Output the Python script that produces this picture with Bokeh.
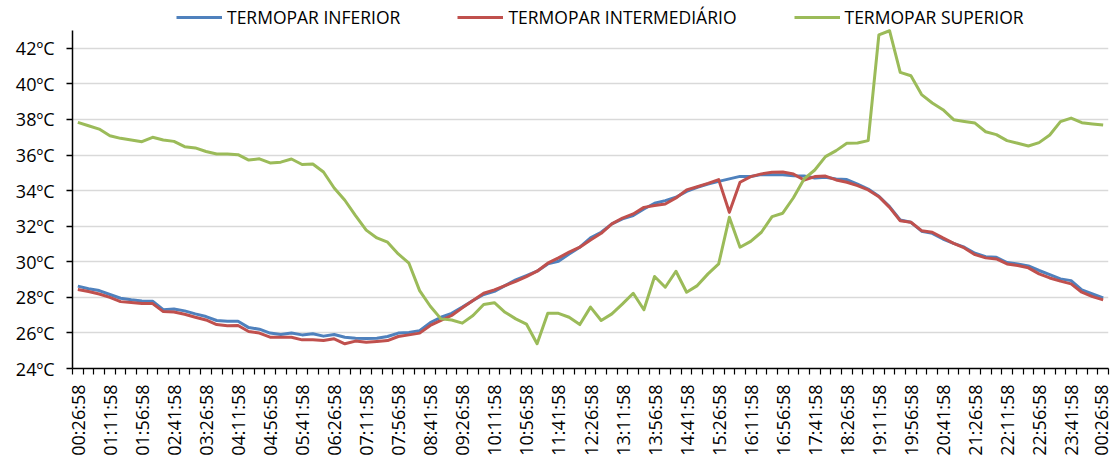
from math import pi
from bokeh.plotting import figure
from bokeh.models import FixedTicker, Legend
from bokeh.embed import file_html
from bokeh.resources import INLINE

# ---- data -------------------------------------------------------------
times = [
    "00:26:58", "00:41:58", "00:56:58",
    "01:11:58", "01:26:58", "01:41:58", "01:56:58",
    "02:11:58", "02:26:58", "02:41:58", "02:56:58",
    "03:11:58", "03:26:58", "03:41:58", "03:56:58",
    "04:11:58", "04:26:58", "04:41:58", "04:56:58",
    "05:11:58", "05:26:58", "05:41:58", "05:56:58",
    "06:11:58", "06:26:58", "06:41:58", "06:56:58",
    "07:11:58", "07:26:58", "07:41:58", "07:56:58",
    "08:11:58", "08:26:58", "08:41:58", "08:56:58",
    "09:11:58", "09:26:58", "09:41:58", "09:56:58",
    "10:11:58", "10:26:58", "10:41:58", "10:56:58",
    "11:11:58", "11:26:58", "11:41:58", "11:56:58",
    "12:11:58", "12:26:58", "12:41:58", "12:56:58",
    "13:11:58", "13:26:58", "13:41:58", "13:56:58",
    "14:11:58", "14:26:58", "14:41:58", "14:56:58",
    "15:11:58", "15:26:58", "15:41:58", "15:56:58",
    "16:11:58", "16:26:58", "16:41:58", "16:56:58",
    "17:11:58", "17:26:58", "17:41:58", "17:56:58",
    "18:11:58", "18:26:58", "18:41:58", "18:56:58",
    "19:11:58", "19:26:58", "19:41:58", "19:56:58",
    "20:11:58", "20:26:58", "20:41:58", "20:56:58",
    "21:11:58", "21:26:58", "21:41:58", "21:56:58",
    "22:11:58", "22:26:58", "22:41:58", "22:56:58",
    "23:11:58", "23:26:58", "23:41:58", "23:56:58",
    "00:11:58", "00:26:58",
]

inferior = [
    28.63, 28.48, 28.38, 28.16, 27.95, 27.86, 27.80, 27.78, 27.31, 27.35, 27.24, 27.07, 26.92, 26.70, 26.66, 26.66, 26.30,
    26.21, 25.99, 25.91, 26.00, 25.89, 25.95, 25.82, 25.91, 25.76, 25.70, 25.69, 25.70, 25.80, 25.99, 26.02, 26.13, 26.58,
    26.88, 27.10, 27.45, 27.82, 28.16, 28.34, 28.66, 28.98, 29.22, 29.47, 29.88, 30.03, 30.44, 30.82, 31.34, 31.66, 32.13,
    32.41, 32.60, 32.97, 33.29, 33.44, 33.63, 33.96, 34.19, 34.37, 34.52, 34.66, 34.80, 34.80, 34.90, 34.90, 34.89, 34.84,
    34.82, 34.71, 34.75, 34.66, 34.62, 34.37, 34.09, 33.68, 33.10, 32.35, 32.22, 31.72, 31.60, 31.28, 31.04, 30.82,
    30.48, 30.29, 30.25, 29.96, 29.88, 29.77, 29.51, 29.28, 29.04, 28.94, 28.42, 28.19, 27.97,
]

intermediario = [
    28.44, 28.33, 28.19, 28.00, 27.76, 27.71, 27.65, 27.65, 27.20, 27.18, 27.05, 26.88, 26.73, 26.47, 26.40, 26.42, 26.08,
    25.99, 25.76, 25.76, 25.76, 25.61, 25.61, 25.57, 25.67, 25.39, 25.54, 25.48, 25.52, 25.57, 25.80, 25.89, 25.99, 26.42,
    26.70, 26.98, 27.41, 27.82, 28.23, 28.42, 28.66, 28.90, 29.17, 29.47, 29.92, 30.22, 30.54, 30.82, 31.23, 31.60, 32.13,
    32.46, 32.69, 33.06, 33.16, 33.25, 33.59, 34.04, 34.22, 34.41, 34.62, 32.78, 34.47, 34.79, 34.94, 35.03, 35.05, 34.93,
    34.60, 34.79, 34.82, 34.60, 34.47, 34.28, 34.04, 33.66, 33.06, 32.31, 32.22, 31.75, 31.66, 31.34, 31.04, 30.78,
    30.40, 30.22, 30.16, 29.88, 29.79, 29.66, 29.32, 29.09, 28.91, 28.76, 28.29, 28.04, 27.86,
]

superior = [
    37.84, 37.65, 37.46, 37.09, 36.94, 36.85, 36.75, 37.00, 36.85, 36.77, 36.47, 36.40, 36.20, 36.06, 36.06, 36.02, 35.72,
    35.79, 35.56, 35.60, 35.78, 35.47, 35.50, 35.05, 34.15, 33.46, 32.60, 31.78, 31.34, 31.10, 30.44, 29.92, 28.38, 27.50,
    26.79, 26.73, 26.55, 26.98, 27.60, 27.70, 27.16, 26.79, 26.50, 25.39, 27.10, 27.10, 26.88, 26.47, 27.45, 26.70, 27.07,
    27.63, 28.23, 27.30, 29.17, 28.57, 29.47, 28.29, 28.66, 29.32, 29.88, 32.50, 30.82, 31.15, 31.66, 32.54, 32.73, 33.60,
    34.66, 35.16, 35.91, 36.25, 36.66, 36.68, 36.81, 42.76, 42.99, 40.65, 40.46, 39.40, 38.93, 38.55, 37.99, 37.89,
    37.80, 37.31, 37.15, 36.81, 36.66, 36.51, 36.70, 37.13, 37.88, 38.08, 37.82, 37.75, 37.69,
]

series_names = ["TERMOPAR INFERIOR", "TERMOPAR INTERMEDIÁRIO", "TERMOPAR SUPERIOR"]
series_colors = ["#4F81BD", "#C0504D", "#9BBB59"]

y_ticks = [24, 26, 28, 30, 32, 34, 36, 38, 40, 42]
y_labels = ["24ºC", "26ºC", "28ºC", "30ºC", "32ºC", "34ºC", "36ºC", "38ºC", "40ºC", "42ºC"]

# ---- figure -----------------------------------------------------------
FONT = "Open Sans"
n = len(times)
xs = list(range(n))

# frame covers the legend strip too; axis line limited to 24..43 by bounds
p = figure(width=1112, height=462, x_range=(-0.5, n - 0.5), y_range=(24, 44.69),
           output_backend="svg", toolbar_location=None,
           min_border_left=72, min_border_right=4, min_border_top=0, min_border_bottom=94)
p.outline_line_color = None
p.background_fill_color = "white"
p.border_fill_color = "white"

renderers = []
for vals, col in zip([inferior, intermediario, superior], series_colors):
    r = p.line(xs, vals, line_color=col, line_width=3, line_join="round")
    renderers.append(r)

# y axis
p.yaxis.ticker = FixedTicker(ticks=y_ticks, minor_ticks=[])
p.yaxis.major_label_overrides = {t: l for t, l in zip(y_ticks, y_labels)}
p.yaxis.bounds = (24, 43)
p.yaxis.major_tick_out = 6
p.yaxis.major_tick_in = 0
p.yaxis.major_tick_line_color = "#000000"
p.yaxis.major_tick_line_width = 1.5
p.yaxis.axis_line_color = "#000000"
p.yaxis.axis_line_width = 1.5
p.yaxis.major_label_text_font = FONT
p.yaxis.major_label_text_font_size = "18px"
p.yaxis.major_label_text_color = "#000000"
p.yaxis.major_label_standoff = 12

# x axis
p.xaxis.ticker = FixedTicker(ticks=list(range(0, n, 3)),
                             minor_ticks=[i - 0.5 for i in range(n + 1)])
p.xaxis.major_label_overrides = {i: times[i] for i in range(0, n, 3)}
p.xaxis.major_tick_out = 0
p.xaxis.major_tick_in = 0
p.xaxis.minor_tick_out = 6
p.xaxis.minor_tick_in = 0
p.xaxis.minor_tick_line_color = "#000000"
p.xaxis.minor_tick_line_width = 1.2
p.xaxis.axis_line_color = "#000000"
p.xaxis.axis_line_width = 1.5
p.xaxis.major_label_orientation = pi / 2
p.xaxis.major_label_text_font = FONT
p.xaxis.major_label_text_font_size = "18px"
p.xaxis.major_label_text_color = "#000000"
p.xaxis.major_label_standoff = 10

p.xgrid.visible = False
p.ygrid.grid_line_color = "#D9D9D9"
p.ygrid.grid_line_width = 1.5

legend = Legend(items=[(nm, [r]) for nm, r in zip(series_names, renderers)],
                orientation="horizontal", location=(104, 339))
legend.label_text_font = FONT
legend.label_text_font_size = "17.5px"
legend.label_text_color = "#000000"
legend.glyph_width = 46
legend.glyph_height = 20
legend.label_height = 20
legend.label_standoff = 5
legend.spacing = 57
legend.padding = 0
legend.margin = 0
legend.border_line_color = None
legend.background_fill_alpha = 0
p.add_layout(legend, "center")

open("out.html", "w").write(file_html(p, INLINE))
